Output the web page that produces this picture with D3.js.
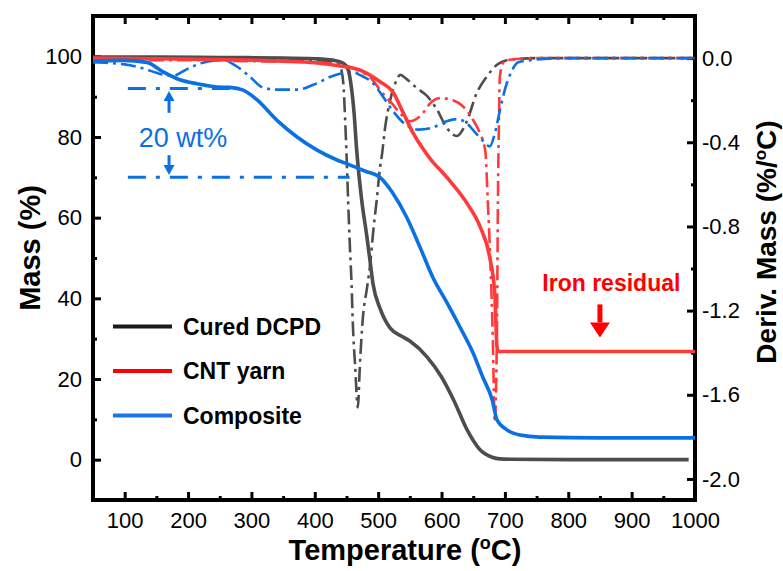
<!DOCTYPE html>
<html>
<head>
<meta charset="utf-8">
<script src="https://cdn.jsdelivr.net/npm/d3@7"></script>
<style>
  body { margin: 0; background: #fff; }
  svg text { font-family: "Liberation Sans", Arial, sans-serif; }
</style>
</head>
<body>
<svg id="chart" width="783" height="571"></svg>
<script>
// TGA mass curves (left axis, %)
const tempDcpd = [50, 150, 250, 350, 400, 430, 445, 452, 458, 462, 466, 474, 482, 487, 492, 503, 519, 535, 550, 577, 600, 620, 640, 660, 680, 692, 710, 800, 990];
const massDcpd = [99.8, 99.8, 99.7, 99.6, 99.4, 99.0, 98.3, 97, 92, 86, 77, 64.4, 55.5, 49.5, 43.5, 37.5, 32.6, 30.8, 29.4, 25.5, 20.5, 14.5, 7.5, 2.6, 0.6, 0.2, 0.1, 0, 0];

const tempCnt = [50, 150, 250, 350, 400, 440, 471, 503, 523, 539, 555, 571, 585, 600, 620, 640, 661, 676, 684, 687.5, 690, 800, 1000];
const massCnt = [99.6, 99.4, 99.2, 98.8, 98.4, 97.6, 96.6, 93.7, 91.2, 86.2, 81, 77, 74, 71.5, 67.8, 63.6, 57.7, 50.2, 41.3, 28, 26.8, 26.8, 26.8];

const tempComp = [50, 97, 135, 160, 187, 214, 246, 266, 287, 309, 340, 372, 403, 435, 455, 480, 503, 523, 545, 566, 586, 609, 629, 650, 665, 680, 687.5, 703, 724, 755, 850, 1000];
const massComp = [98.8, 99, 98.5, 96.2, 94.2, 93.2, 92.4, 92.3, 91.6, 89.2, 84.2, 80, 76.8, 74.3, 73.1, 71.5, 70, 66.1, 60.1, 52.7, 45.3, 38.8, 32.9, 26.4, 20.5, 14.8, 9.9, 7.4, 6.1, 5.6, 5.4, 5.4];

// DTG curves (right axis, %/oC)
const dtgTempDcpd = [50, 200, 300, 400, 430, 440, 445, 448, 450, 452.6, 455.6, 458, 460, 463.4, 468, 471, 476, 482, 487, 492, 497.7, 503, 506, 511, 519, 527, 535, 545, 560, 577, 592, 608, 624, 640, 655, 671, 687, 703, 750, 1000];
const dtgDcpd = [-0.005, -0.005, -0.006, -0.01, -0.02, -0.04, -0.12, -0.3, -0.45, -0.675, -0.91, -1.07, -1.26, -1.45, -1.66, -1.47, -1.23, -1.10, -0.99, -0.83, -0.675, -0.52, -0.46, -0.33, -0.2, -0.12, -0.08, -0.1, -0.14, -0.18, -0.24, -0.33, -0.37, -0.30, -0.17, -0.09, -0.033, -0.01, 0, 0];

const dtgTempCnt = [50, 200, 300, 400, 440, 470, 490, 505, 523, 537, 550, 560, 571, 582, 598, 618, 634, 650, 661, 669, 673, 677, 681, 684, 687.5, 689, 690.7, 692, 697, 703, 750, 1000];
const dtgCnt = [-0.01, -0.01, -0.015, -0.02, -0.03, -0.06, -0.10, -0.16, -0.22, -0.27, -0.30, -0.29, -0.26, -0.215, -0.19, -0.20, -0.23, -0.295, -0.36, -0.44, -0.68, -0.96, -1.34, -1.73, -1.29, -0.68, -0.29, -0.09, -0.024, -0.01, 0, 0];

const dtgTempComp = [50, 100, 130, 150, 175, 200, 220, 255, 277, 298, 318, 340, 372, 403, 424, 445, 460, 471, 492, 508, 523, 545, 563, 586, 608, 624, 640, 655, 668, 676, 684, 692, 700, 711, 721, 740, 800, 1000];
const dtgComp = [-0.02, -0.03, -0.05, -0.07, -0.085, -0.05, -0.025, -0.01, -0.04, -0.09, -0.14, -0.15, -0.15, -0.12, -0.09, -0.07, -0.065, -0.08, -0.12, -0.185, -0.25, -0.32, -0.34, -0.33, -0.30, -0.29, -0.31, -0.36, -0.40, -0.42, -0.36, -0.25, -0.15, -0.06, -0.02, -0.01, 0, 0];

// axes ticks
const xTicks = [100, 200, 300, 400, 500, 600, 700, 800, 900, 1000];
const xMinor = [150, 250, 350, 450, 550, 650, 750, 850, 950];
const massTicks = [0, 20, 40, 60, 80, 100];
const massMinor = [10, 30, 50, 70, 90];
const dtgTicks = [0, -0.4, -0.8, -1.2, -1.6, -2.0];
const dtgMinor = [-0.2, -0.6, -1.0, -1.4, -1.8];

const legendNames = ["Cured DCPD", "CNT yarn", "Composite"];

// annotation values
const bracketLevels = [92, 70];        // mass % of the two dash-dot guide lines
const bracketEnds = [280, 455];        // temperature where each guide line stops
const bracketStart = 105;
const bracketArrowTemp = 170;

const margin = { top: 16, right: 88, bottom: 71, left: 93 };
const width = 783 - margin.left - margin.right;
const height = 571 - margin.top - margin.bottom;

const gray = "#4d4d4d", red = "#ff3a3a", blue = "#0b70e2";

const svg = d3.select("#chart");
const g = svg.append("g").attr("transform", "translate(" + margin.left + "," + margin.top + ")");

const x = d3.scaleLinear().domain([50, 1000]).range([0, width]);
const y = d3.scaleLinear().domain([-10, 110]).range([height, 0]);
const y2 = d3.scaleLinear().domain([-2.1, 0.2]).range([height, 0]);

g.append("clipPath").attr("id", "plotclip")
    .append("rect").attr("width", width).attr("height", height);

// ticks (inward) on all four sides
function tickAxis(axis, size, sel) {
    return sel.call(axis.tickSize(size)).call(s => s.select(".domain").remove());
}

const bottom = g.append("g").attr("transform", "translate(0," + height + ")");
tickAxis(d3.axisBottom(x).tickValues(xTicks).tickFormat(d3.format("d")).tickPadding(12), -8, bottom);
tickAxis(d3.axisBottom(x).tickValues(xMinor).tickFormat(""), -4, g.append("g").attr("transform", "translate(0," + height + ")"));
tickAxis(d3.axisTop(x).tickValues(xTicks).tickFormat(""), -8, g.append("g"));
tickAxis(d3.axisTop(x).tickValues(xMinor).tickFormat(""), -4, g.append("g"));

const left = g.append("g");
tickAxis(d3.axisLeft(y).tickValues(massTicks).tickPadding(11), -8, left);
tickAxis(d3.axisLeft(y).tickValues(massMinor).tickFormat(""), -4, g.append("g"));

const right = g.append("g").attr("transform", "translate(" + width + ",0)");
tickAxis(d3.axisRight(y2).tickValues(dtgTicks).tickFormat(d => d.toFixed(1)).tickPadding(7), -8, right);
tickAxis(d3.axisRight(y2).tickValues(dtgMinor).tickFormat(""), -4, g.append("g").attr("transform", "translate(" + width + ",0)"));

g.selectAll(".tick line").attr("stroke", "#000").attr("stroke-width", 3);
g.selectAll(".tick text").attr("font-size", 22).attr("fill", "#000")
    .style("font-family", "'Liberation Sans', Arial, sans-serif");

// frame
g.append("rect").attr("width", width).attr("height", height)
    .attr("fill", "none").attr("stroke", "#000").attr("stroke-width", 4);

// data lines
const plot = g.append("g").attr("clip-path", "url(#plotclip)");

function drawLine(temps, vals, yScale, color, dashed) {
    const line = d3.line().x((d, i) => x(temps[i])).y(d => yScale(d)).curve(d3.curveMonotoneX);
    plot.append("path").datum(vals)
        .attr("d", line)
        .attr("fill", "none")
        .attr("stroke", color)
        .attr("stroke-width", dashed ? 2.6 : 3.6)
        .attr("stroke-linejoin", "round")
        .attr("stroke-dasharray", dashed ? "15,5,3,5" : null);
}

drawLine(dtgTempDcpd, dtgDcpd, y2, gray, true);
drawLine(dtgTempCnt, dtgCnt, y2, red, true);
drawLine(dtgTempComp, dtgComp, y2, blue, true);
drawLine(tempDcpd, massDcpd, y, gray, false);
drawLine(tempCnt, massCnt, y, red, false);
drawLine(tempComp, massComp, y, blue, false);

// 20 wt% bracket
bracketLevels.forEach((lvl, i) => {
    g.append("line")
        .attr("x1", x(bracketStart)).attr("x2", x(bracketEnds[i]))
        .attr("y1", y(lvl)).attr("y2", y(lvl))
        .attr("stroke", blue).attr("stroke-width", 3)
        .attr("stroke-dasharray", "18,10,4,10");
});

function arrow(t, fromY, toY, color, shaftW, headW, headL) {
    const px = x(t);
    const dir = toY > fromY ? 1 : -1;
    g.append("line")
        .attr("x1", px).attr("x2", px)
        .attr("y1", fromY).attr("y2", toY - dir * headL)
        .attr("stroke", color).attr("stroke-width", shaftW);
    g.append("path")
        .attr("d", "M" + (px - headW / 2) + "," + (toY - dir * headL) +
            "L" + (px + headW / 2) + "," + (toY - dir * headL) +
            "L" + px + "," + toY + "Z")
        .attr("fill", color);
}

arrow(bracketArrowTemp, y(86), y(91.4), blue, 3, 11, 10);
arrow(bracketArrowTemp, y(75.5), y(70.6), blue, 3, 11, 10);

g.append("text")
    .attr("x", x(122)).attr("y", y(77.5))
    .attr("font-size", 27).attr("fill", blue)
    .text("20 wt%");

// iron residual label
g.append("text")
    .attr("x", x(868)).attr("y", y(41.7))
    .attr("text-anchor", "middle")
    .attr("font-size", 23).attr("font-weight", "bold").attr("fill", "#ff0000")
    .text("Iron residual");
arrow(850, y(38.5), y(30.3), "#ff0000", 5, 20, 15);

// legend
const legendColors = ["#1a1a1a", "#ff0000", "#1a75e6"];
const legend = g.append("g");
legendNames.forEach((name, i) => {
    const ly = y(33) + i * 44.5;
    legend.append("line")
        .attr("x1", 20).attr("x2", 79)
        .attr("y1", ly).attr("y2", ly)
        .attr("stroke", legendColors[i]).attr("stroke-width", 4);
    legend.append("text")
        .attr("x", 90).attr("y", ly).attr("dy", "0.36em")
        .attr("font-size", 23).attr("font-weight", "bold")
        .text(name);
});

// axis titles
const xTitle = svg.append("text")
    .attr("x", 405).attr("y", 560)
    .attr("text-anchor", "middle")
    .attr("font-size", 29).attr("font-weight", "bold");
xTitle.append("tspan").text("Temperature (");
xTitle.append("tspan").attr("font-size", 18).attr("dy", -11).text("o");
xTitle.append("tspan").attr("dy", 11).text("C)");

svg.append("text")
    .attr("transform", "translate(40,248) rotate(-90)")
    .attr("text-anchor", "middle")
    .attr("font-size", 29).attr("font-weight", "bold")
    .text("Mass (%)");

const rTitle = svg.append("text")
    .attr("transform", "translate(776,242) rotate(-90)")
    .attr("text-anchor", "middle")
    .attr("font-size", 28).attr("font-weight", "bold");
rTitle.append("tspan").text("Deriv. Mass (%/");
rTitle.append("tspan").attr("font-size", 17).attr("dy", -10).text("o");
rTitle.append("tspan").attr("dy", 10).text("C)");
</script>
</body>
</html>
